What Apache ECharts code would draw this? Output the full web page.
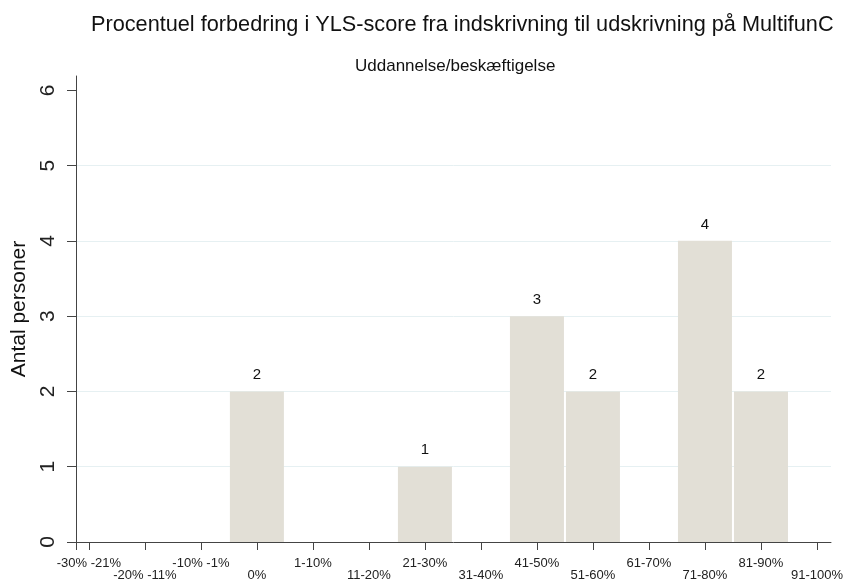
<!DOCTYPE html>
<html>
<head>
<meta charset="utf-8">
<script src="https://cdn.jsdelivr.net/npm/echarts@6/dist/echarts.min.js"></script>
<style>
  html, body { margin: 0; padding: 0; background: #fff; }
  #container { width: 846px; height: 582px; }
</style>
</head>
<body>
<div id="container"></div>
<script>
// data
var categories = ['-30% -21%', '-20% -11%', '-10% -1%', '0%', '1-10%', '11-20%', '21-30%',
                  '31-40%', '41-50%', '51-60%', '61-70%', '71-80%', '81-90%', '91-100%'];
var counts = [0, 0, 0, 2, 0, 0, 1, 0, 3, 2, 0, 4, 2, 0];
var yTicks = [0, 1, 2, 3, 4, 5, 6];

var titleText = 'Procentuel forbedring i YLS-score fra indskrivning til udskrivning på MultifunC';
var subText = 'Uddannelse/beskæftigelse';
var yName = 'Antal personer';

var font = '"Liberation Sans", Arial, sans-serif';

// bins sit at positions 1..14 on a value axis
var xMin = 0.77, xMax = 14.25;
var xPos = categories.map(function (c, i) { return i + 1; });
var barData = counts.map(function (v, i) { return [xPos[i], v]; });
// the axis start is listed too, so the first bin keeps its tick and label
var xTickVals = [xMin].concat(xPos);

var dom = document.getElementById('container');
var myChart = echarts.init(dom);

var option = {
    backgroundColor: '#fff',
    animation: false,
    textStyle: { fontFamily: font },
    title: [
        { text: titleText, left: 86, top: 9,
          textStyle: { fontFamily: font, fontSize: 21.7, fontWeight: 'normal', color: '#111' } },
        { text: subText, left: 350, top: 53,
          textStyle: { fontFamily: font, fontSize: 17, fontWeight: 'normal', color: '#111' } }
    ],
    grid: { left: 76, right: 13, top: 76, bottom: 40, containLabel: false },
    xAxis: {
        type: 'value',
        min: xMin,
        max: xMax,
        axisLine: { show: true, onZero: false, lineStyle: { color: '#444', width: 1 } },
        axisTick: { show: true, length: 8, customValues: xTickVals, lineStyle: { color: '#444' } },
        splitLine: { show: false },
        axisLabel: {
            customValues: xTickVals,
            showMinLabel: true,
            margin: 15,
            fontSize: 13,
            lineHeight: 12,
            color: '#222',
            fontFamily: font,
            formatter: function (v) {
                if (v < 1) return '';
                var i = Math.round(v) - 1;
                return i % 2 ? '\n' + categories[i] : categories[i];
            }
        }
    },
    yAxis: {
        type: 'value',
        min: 0,
        max: 6.19,
        name: yName,
        nameLocation: 'middle',
        nameGap: 46,
        nameTextStyle: { fontSize: 21, color: '#111', fontFamily: font },
        axisLine: { show: true, onZero: false, lineStyle: { color: '#444', width: 1 } },
        axisTick: { show: true, length: 9, customValues: yTicks, lineStyle: { color: '#444' } },
        axisLabel: {
            customValues: yTicks,
            rotate: 90,
            margin: 17,
            fontSize: 21,
            color: '#222',
            fontFamily: font
        },
        splitLine: { show: true, showMinLine: false, showMaxLine: false,
                     lineStyle: { color: '#e6f0f2', width: 1 } }
    },
    series: [{
        type: 'bar',
        data: barData,
        barWidth: 54,
        itemStyle: { color: '#e2dfd6' },
        label: {
            show: true,
            position: 'top',
            distance: 9,
            fontSize: 15,
            color: '#111',
            fontFamily: font,
            formatter: function (p) { return p.value[1] ? String(p.value[1]) : ''; }
        }
    }]
};

myChart.setOption(option);
</script>
</body>
</html>
